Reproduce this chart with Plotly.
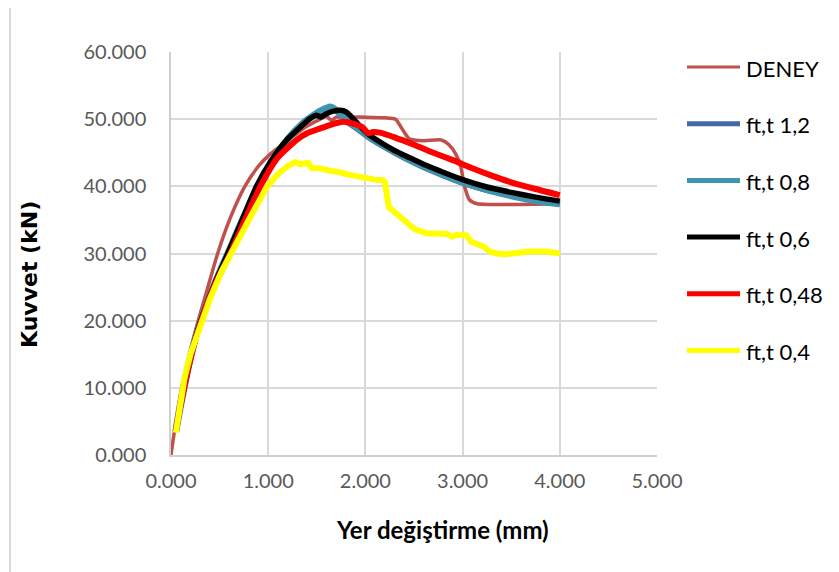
import plotly.graph_objects as go

# ---------------- data ----------------
deney_x = [0, 0.05, 0.11, 0.19, 0.28, 0.37, 0.48, 0.61, 0.76, 0.9, 1.02, 1.2, 1.38, 1.52, 1.6, 1.65,
           1.7, 1.8, 2.0, 2.2, 2.31, 2.38, 2.45, 2.6, 2.78, 2.86, 2.93, 2.98, 3.02, 3.07, 3.15, 3.3, 3.6, 4.0]
deney_y = [0, 5, 10, 15, 20, 24.5, 30, 35.3, 40, 43, 44.8, 46.8, 48.8, 49.9, 50.4, 49.8,
           50.3, 50.3, 50.3, 50.2, 50.0, 48.5, 47.1, 46.8, 46.9, 46.2, 44.8, 43.0, 40.0, 38.0, 37.4, 37.3, 37.3, 37.4]

ft12_x = [0.05, 0.1, 0.2, 0.3, 0.45, 0.6, 0.75, 0.9, 1.05, 1.2, 1.35, 1.45, 1.55, 1.64, 1.72, 1.81,
          1.93, 2.02, 2.2, 2.4, 2.6, 2.8, 3.0, 3.25, 3.5, 3.75, 4.0]
ft12_y = [3.5, 7.5, 14.4, 19.7, 25.4, 30.4, 35.4, 40.1, 43.9, 46.9, 49.2, 50.3, 51.2, 51.6, 51.0, 49.6,
          48.4, 47.4, 45.8, 44.2, 42.8, 41.6, 40.5, 39.4, 38.6, 37.9, 37.4]

ft08_x = [0.05, 0.1, 0.2, 0.3, 0.45, 0.6, 0.75, 0.9, 1.05, 1.2, 1.35, 1.45, 1.55, 1.64, 1.72, 1.81,
          1.93, 2.02, 2.2, 2.4, 2.6, 2.8, 3.0, 3.25, 3.5, 3.75, 4.0]
ft08_y = [3.5, 7.5, 14.5, 19.8, 25.5, 30.5, 35.5, 40.2, 44.0, 47.0, 49.3, 50.4, 51.3, 51.8, 51.1, 49.8,
          48.6, 47.6, 46.0, 44.4, 43.0, 41.8, 40.6, 39.5, 38.6, 37.9, 37.4]

ft06_x = [0.05, 0.1, 0.2, 0.3, 0.45, 0.6, 0.75, 0.88, 1.03, 1.19, 1.33, 1.43, 1.5, 1.54, 1.6, 1.67,
          1.76, 1.8, 1.84, 1.91, 2.02, 2.15, 2.29, 2.45, 2.63, 2.8, 3.0, 3.25, 3.5, 3.75, 4.0]
ft06_y = [3.5, 7.5, 14.4, 19.7, 25.5, 30.5, 35.6, 40.0, 43.8, 46.9, 48.8, 50.1, 50.6, 50.3, 50.8, 51.2,
          51.3, 51.1, 50.6, 49.5, 47.9, 46.6, 45.4, 44.3, 43.1, 42.1, 41.0, 39.9, 39.1, 38.4, 37.8]

ft048_x = [0.05, 0.1, 0.2, 0.3, 0.45, 0.61, 0.76, 0.92, 1.1, 1.3, 1.4, 1.53, 1.65, 1.77, 1.88, 1.97,
           2.03, 2.08, 2.15, 2.3, 2.5, 2.7, 2.9, 3.1, 3.3, 3.5, 3.75, 4.0]
ft048_y = [3.5, 7.5, 14.3, 19.6, 25.3, 30.0, 35.0, 40.0, 44.3, 47.0, 47.9, 48.6, 49.2, 49.6, 49.3, 48.8,
           47.9, 48.1, 48.0, 47.3, 46.2, 45.0, 43.9, 42.7, 41.6, 40.6, 39.6, 38.7]

ft04_x = [0.05, 0.09, 0.14, 0.2, 0.3, 0.4, 0.52, 0.65, 0.8, 0.99, 1.1, 1.2, 1.28, 1.33, 1.37, 1.41,
          1.45, 1.53, 1.64, 1.7, 1.84, 1.98, 2.1, 2.18, 2.2, 2.24, 2.32, 2.42, 2.49, 2.51, 2.63, 2.75,
          2.84, 2.89, 2.94, 3.04, 3.09, 3.15, 3.21, 3.28, 3.35, 3.45, 3.6, 3.69, 3.86, 4.0]
ft04_y = [3.3, 7.5, 11.5, 15.0, 19.3, 23.2, 27.3, 31.0, 35.0, 40.0, 41.8, 43.0, 43.6, 43.3, 43.5, 43.5,
          42.7, 42.7, 42.3, 42.2, 41.7, 41.2, 41.0, 40.9, 40.7, 36.9, 36.0, 34.7, 33.8, 33.6, 33.0, 32.9,
          32.9, 32.5, 32.8, 32.7, 31.7, 31.4, 31.1, 30.3, 30.0, 29.9, 30.1, 30.3, 30.3, 30.0]

series_names = ["DENEY", "ft,t 1,2", "ft,t 0,8", "ft,t 0,6", "ft,t 0,48", "ft,t 0,4"]
x_ticks = [0, 1, 2, 3, 4, 5]
y_ticks = [0, 10, 20, 30, 40, 50, 60]

# ---------------- styling ----------------
colors = ["#C0504D", "#4169A6", "#3E96AE", "#000000", "#FF0000", "#FFFF00"]
widths = [3.5, 5.5, 7, 5.5, 6, 6]
legend_widths = [3, 5, 5, 5, 5, 5]
shapes_line = ["spline", "spline", "spline", "spline", "spline", "linear"]

data = [(deney_x, deney_y), (ft12_x, ft12_y), (ft08_x, ft08_y),
        (ft06_x, ft06_y), (ft048_x, ft048_y), (ft04_x, ft04_y)]

FONT = "Lato, 'Open Sans', sans-serif"
OFF = 8  # page body margin of the html output

# plot area in page pixels
L, R, T, B = 171, 657, 52, 455
W_PA, H_PA = R - L, B - T
FIG_W, FIG_H = 839, 572


def px(x):
    return (x - L) / W_PA


def py(y):
    return (B - y) / H_PA


fig = go.Figure()
for (xs, ys), name, c, w, sh in zip(data, series_names, colors, widths, shapes_line):
    line = dict(color=c, width=w, shape=sh)
    if sh == "spline":
        line["smoothing"] = 0.6
    fig.add_trace(go.Scatter(x=xs, y=ys, mode="lines", name=name, line=line,
                             showlegend=False, hoverinfo="skip"))

shapes = [
    # outer chart frame (partially off-canvas)
    dict(type="rect", xref="paper", yref="paper", x0=px(10), x1=px(1000), y0=py(900), y1=py(7),
         line=dict(color="#D9D9D9", width=2), fillcolor="rgba(0,0,0,0)", layer="below"),
]
annotations = []
for i, (name, c, lw) in enumerate(zip(series_names, colors, legend_widths)):
    yy = 67 + 56.7 * i
    shapes.append(dict(type="line", xref="paper", yref="paper", x0=px(687), x1=px(740),
                       y0=py(yy), y1=py(yy), line=dict(color=c, width=lw)))
    annotations.append(dict(xref="paper", yref="paper", x=px(744), y=py(yy + 1), text=name,
                            showarrow=False, xanchor="left", yanchor="middle",
                            font=dict(family=FONT, size=22, color="#000000")))

annotations.append(dict(xref="paper", yref="paper", x=px(442), y=py(529), text="<b>Yer değiştirme (mm)</b>",
                        showarrow=False, xanchor="center", yanchor="middle",
                        font=dict(family=FONT, size=24, color="#000000")))
annotations.append(dict(xref="paper", yref="paper", x=px(29), y=py(275), text="<b>Kuvvet (kN)</b>",
                        showarrow=False, xanchor="center", yanchor="middle", textangle=-90,
                        font=dict(family="'DejaVu Sans', sans-serif", size=22, color="#000000")))

fig.update_layout(
    width=FIG_W, height=FIG_H, autosize=False,
    margin=dict(l=L - OFF, r=FIG_W - R + OFF, t=T - OFF, b=FIG_H - B + OFF, pad=0),
    paper_bgcolor="white", plot_bgcolor="white",
    shapes=shapes, annotations=annotations,
    xaxis=dict(range=[0, 5], tickvals=x_ticks, tickformat=".3f", showgrid=True,
               gridcolor="#D9D9D9", gridwidth=1.5, zeroline=False, showline=True,
               linecolor="#D0D0D0", linewidth=1.5, ticks="", ticklabelstandoff=7,
               tickfont=dict(family=FONT, size=20, color="#595959"), fixedrange=True),
    yaxis=dict(range=[0, 60], tickvals=y_ticks, tickformat=".3f", showgrid=True,
               gridcolor="#D9D9D9", gridwidth=1.5, zeroline=False, showline=True,
               linecolor="#D0D0D0", linewidth=1.5, ticks="", ticklabelstandoff=19,
               tickfont=dict(family=FONT, size=20, color="#595959"), fixedrange=True),
)

fig.write_html("out.html")
